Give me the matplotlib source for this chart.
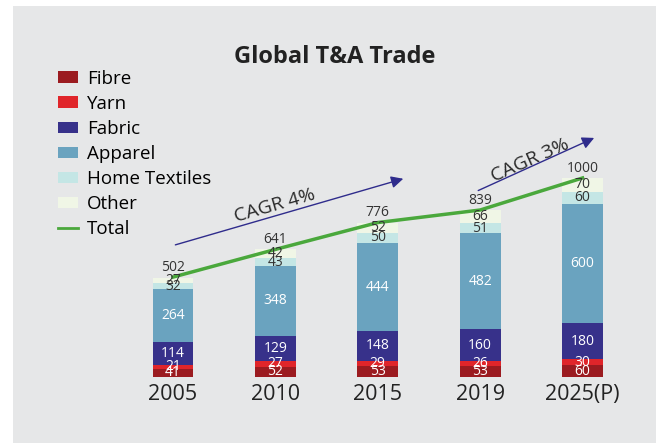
import numpy as np
import matplotlib.pyplot as plt
from matplotlib.patches import Rectangle, Patch
from matplotlib.lines import Line2D

plt.rcParams['font.family'] = ['Open Sans', 'DejaVu Sans']

# data
years = ['2005', '2010', '2015', '2019', '2025(P)']
fibre = [41, 52, 53, 53, 60]
yarn = [21, 27, 29, 26, 30]
fabric = [114, 129, 148, 160, 180]
apparel = [264, 348, 444, 482, 600]
home_textiles = [32, 43, 50, 51, 60]
other = [27, 42, 52, 66, 70]
total = [502, 641, 776, 839, 1000]

series = [('Fibre', fibre, '#9b1b20', 'white'),
          ('Yarn', yarn, '#e0252a', 'white'),
          ('Fabric', fabric, '#37318a', 'white'),
          ('Apparel', apparel, '#6aa3bf', 'white'),
          ('Home Textiles', home_textiles, '#c4e6e5', '#333333'),
          ('Other', other, '#f0f6e6', '#333333')]

bg = '#e6e7e8'
navy = '#2f2c8c'
green = '#4aa83c'

fig = plt.figure(figsize=(6.56, 4.43), dpi=100)
fig.patch.set_facecolor('white')
fig.patches.append(Rectangle((13 / 656, 0), 1, 1 - 6 / 443, transform=fig.transFigure,
                             facecolor=bg, edgecolor='none', zorder=-5))

ax = fig.add_axes([13 / 656, 66 / 443, 643 / 656, 371 / 443])
ax.set_facecolor('none')
x = np.arange(len(years))
ax.set_xlim(-1.5625, 4.717)
ax.set_ylim(0, 1864)

bottom = np.zeros(len(years))
for name, vals, col, tcol in series:
    vals = np.array(vals)
    ax.bar(x, vals, 0.4, bottom=bottom, color=col, zorder=2)
    for xi, b, v in zip(x, bottom, vals):
        ax.text(xi, b + v / 2, str(v), ha='center', va='center', fontsize=10,
                color=tcol, zorder=4)
    bottom += vals

ax.plot(x, total, color=green, lw=2.5, zorder=3)
for xi, t in zip(x, total):
    ax.annotate(str(t), (xi, t), xytext=(0, 7), textcoords='offset points',
                ha='center', va='center', fontsize=10, color='#333333', zorder=4)

# CAGR arrows
ax.annotate('', xy=(2.275, 1000), xytext=(-0.003, 660),
            arrowprops=dict(arrowstyle='-|>', color=navy, lw=1, mutation_scale=18))
ax.annotate('', xy=(4.138, 1207), xytext=(2.956, 931),
            arrowprops=dict(arrowstyle='-|>', color=navy, lw=1, mutation_scale=18))
ax.text(0.996, 862, 'CAGR 4%', rotation=16, ha='center', va='center',
        fontsize=14, color='#2a2a2a', rotation_mode='anchor')
ax.text(3.486, 1090, 'CAGR 3%', rotation=24, ha='center', va='center',
        fontsize=14, color='#2a2a2a', rotation_mode='anchor')

ax.set_xticks(x)
ax.set_xticklabels(years, fontsize=15.5, color='#222222')
ax.tick_params(axis='x', length=0, pad=5)
ax.set_yticks([])
for s in ax.spines.values():
    s.set_visible(False)

fig.text(335 / 656, 1 - 57 / 443, 'Global T&A Trade', ha='center', va='center',
         fontsize=17, fontweight='bold', color='#222222')

handles = [Patch(facecolor=c, edgecolor='none', label=n) for n, _, c, _ in series]
handles.append(Line2D([], [], color=green, lw=2, label='Total'))
fig.legend(handles=handles, loc='upper left', bbox_to_anchor=(52 / 656, 1 - 64 / 443),
           frameon=False, fontsize=13.5, handlelength=1.1, handleheight=0.55,
           handletextpad=0.45, labelspacing=0.38, borderaxespad=0, borderpad=0.3)

fig.savefig('out.png', dpi=100)
